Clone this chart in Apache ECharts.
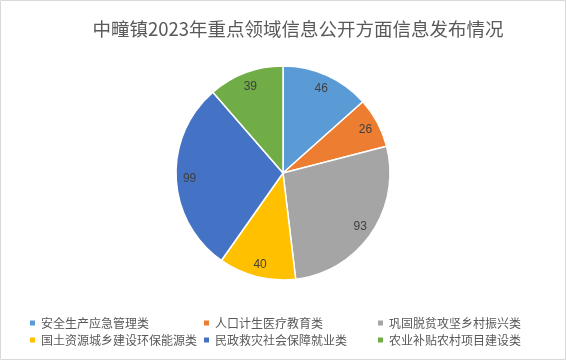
<!DOCTYPE html>
<html><head><meta charset="utf-8">
<script src="https://cdn.jsdelivr.net/npm/echarts@6/dist/echarts.min.js"></script>
<style>html,body{margin:0;padding:0;background:#fff}#c{width:566px;height:360px}</style>
</head><body><div id="c"></div>
<script>
const titleText = '中疃镇2023年重点领域信息公开方面信息发布情况';
const categories = ['安全生产应急管理类','人口计生医疗教育类','巩固脱贫攻坚乡村振兴类','国土资源城乡建设环保能源类','民政救灾社会保障就业类','农业补贴农村项目建设类'];
const values = [46, 26, 93, 40, 99, 39];
const colors = ['#5B9BD5','#ED7D31','#A5A5A5','#FFC000','#4472C4','#70AD47'];

const chart = echarts.init(document.getElementById('c'), null, {renderer:'canvas'});
const pieData = categories.map((n,i)=>({name:n, value:values[i], itemStyle:{color:colors[i]}}));
const labelData = categories.map((n,i)=>({name:n, value:values[i]}));
const legendText = {fontSize:12, color:'#595959', fontFamily:'Noto Sans CJK SC'};
function legendCol(left, idx){
  return {orient:'vertical', left:left, top:312, itemWidth:7, itemHeight:7, itemGap:5, icon:'rect',
    textStyle:legendText, data: idx.map(i=>({name:categories[i], itemStyle:{color:colors[i]}}))};
}
chart.setOption({
  animation:false,
  backgroundColor:'#fff',
  title:{text:titleText, left:293, textAlign:'center', top:15,
    textStyle:{fontSize:18.5, fontWeight:'normal', color:'#595959', fontFamily:'Noto Sans CJK SC'}},
  graphic:[{type:'rect', shape:{x:0.5,y:0.5,width:565,height:359}, style:{fill:'none', stroke:'#D9D9D9', lineWidth:1}, silent:true}],
  legend:[legendCol(23,[0,3]), legendCol(197,[1,4]), legendCol(371,[2,5])],
  series:[
    {type:'pie', center:[283,173], radius:[0,107], startAngle:90, clockwise:true,
     label:{show:false}, labelLine:{show:false},
     itemStyle:{borderColor:'#fff', borderWidth:1.5},
     data:pieData},
    {type:'pie', center:[283,174], radius:[74,107], startAngle:90, clockwise:true, silent:true,
     itemStyle:{color:'rgba(0,0,0,0)'},
     label:{show:true, position:'inside', formatter:'{c}', fontSize:12, color:'#404040', fontFamily:'Liberation Sans'},
     labelLine:{show:false},
     data:labelData}
  ]
});
</script></body></html>
